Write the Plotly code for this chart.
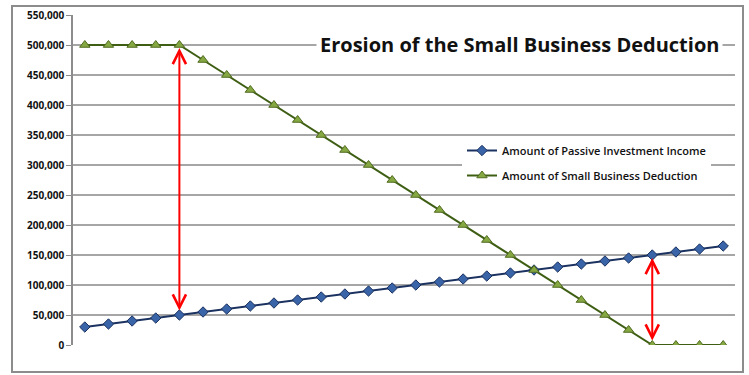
import plotly.graph_objects as go

periods = list(range(1, 29))
passive_income = [30000, 35000, 40000, 45000, 50000, 55000, 60000, 65000, 70000, 75000,
                  80000, 85000, 90000, 95000, 100000, 105000, 110000, 115000, 120000, 125000,
                  130000, 135000, 140000, 145000, 150000, 155000, 160000, 165000]
sbd = [500000, 500000, 500000, 500000, 500000, 475000, 450000, 425000, 400000, 375000,
       350000, 325000, 300000, 275000, 250000, 225000, 200000, 175000, 150000, 125000,
       100000, 75000, 50000, 25000, 0, 0, 0, 0]
y_ticks = list(range(0, 550001, 50000))
arrow_idx = [4, 24]

W, H = 749, 375
L, R, T, B = 73, 14, 15, 30
pw, ph = W - L - R, H - T - B

def px_x(p):
    return (p - L) / pw

def px_y(p):
    return 1 - (p - T) / ph

fig = go.Figure()
fig.add_trace(go.Scatter(
    x=periods, y=passive_income, mode="lines+markers",
    name="Amount of Passive Investment Income", legendgroup="a",
    line=dict(color="#1B3260", width=2),
    marker=dict(symbol="diamond", size=8, color="#3A64A8", line=dict(color="#1B3260", width=1)),
))
fig.add_trace(go.Scatter(
    x=periods, y=sbd, mode="lines+markers",
    name="Amount of Small Business Deduction", legendgroup="b",
    line=dict(color="#3E5E14", width=2),
    marker=dict(symbol="triangle-up", size=9, color="#86A843", line=dict(color="#4F6B1F", width=1)),
))

for i in arrow_idx:
    top = max(passive_income[i], sbd[i])
    bot = min(passive_income[i], sbd[i])
    fig.add_annotation(
        x=periods[i], y=top, ax=periods[i], ay=bot, xref="x", yref="y", axref="x", ayref="y",
        text="", showarrow=True, arrowside="end+start", arrowhead=5, startarrowhead=5,
        arrowsize=1.3, startarrowsize=1.3, arrowwidth=2, arrowcolor="#FF0000",
        standoff=3, startstandoff=3,
    )

fig.add_annotation(
    x=px_x(519), y=px_y(44), xref="paper", yref="paper", xanchor="center", yanchor="middle",
    text="<b>Erosion of the Small Business Deduction</b>", showarrow=False,
    font=dict(family="Open Sans", size=20, color="#111111"),
    bgcolor="white", borderpad=3,
)

fig.add_shape(type="rect", xref="paper", yref="paper",
              x0=px_x(12), x1=px_x(743), y0=px_y(372), y1=px_y(6),
              line=dict(color="#8C8C8C", width=2), layer="above")

fig.update_layout(
    width=W, height=H,
    margin=dict(l=L, r=R, t=T, b=B, autoexpand=False),
    paper_bgcolor="white", plot_bgcolor="white",
    showlegend=True,
    legend=dict(
        x=px_x(462), y=px_y(136), xanchor="left", yanchor="top",
        bgcolor="white", font=dict(family="Open Sans", size=11, color="#111111", weight=600),
        traceorder="grouped", tracegroupgap=6,
    ),
    xaxis=dict(range=[0.5, 28.5], showgrid=False, showticklabels=False, zeroline=False,
               showline=False, ticks="", automargin=False),
    yaxis=dict(range=[0, 550000], tickvals=y_ticks, tickformat=",d", automargin=False,
               showgrid=True, gridcolor="#A6A6A6", gridwidth=2,
               showline=True, linecolor="#8C8C8C", linewidth=1.5,
               ticks="outside", ticklen=5, tickcolor="#8C8C8C", zeroline=False,
               tickfont=dict(family="Open Sans", size=10, color="#111111", weight="bold")),
)

fig.write_html("out.html")
